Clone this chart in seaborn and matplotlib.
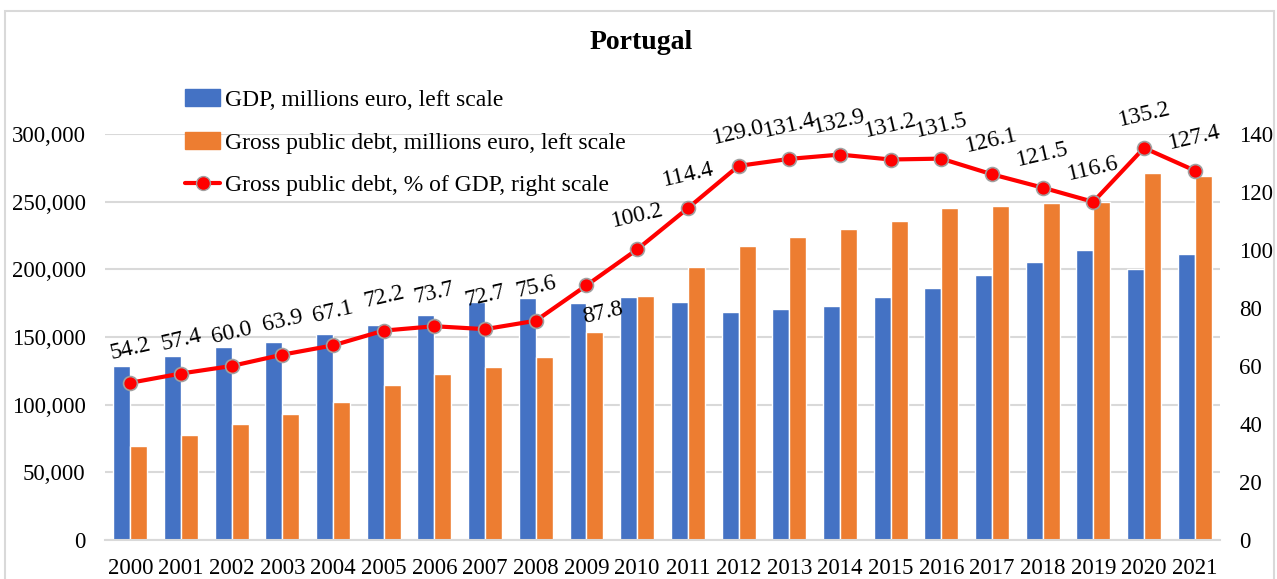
import numpy as np
import pandas as pd
import matplotlib
matplotlib.use('Agg')
import matplotlib.pyplot as plt
import seaborn as sns
from matplotlib.lines import Line2D
from matplotlib.patches import Patch, Rectangle

# data (millions euro / % of GDP)
years = [str(y) for y in range(2000, 2022)]
gdp = [128466, 135775, 142554, 146005, 152248, 158553, 166260, 175483, 179103,
       175416, 179611, 176096, 168296, 170492, 173054, 179713, 186490, 195947,
       205184, 213949, 200519, 211278]
debt = [69628, 77935, 85532, 93297, 102158, 114475, 122534, 127576, 135402,
        154015, 179970, 201454, 217102, 224026, 229989, 235783, 245234, 247089,
        249299, 249465, 271102, 269168]
debt_pct = [54.2, 57.4, 60.0, 63.9, 67.1, 72.2, 73.7, 72.7, 75.6, 87.8, 100.2,
            114.4, 129.0, 131.4, 132.9, 131.2, 131.5, 126.1, 121.5, 116.6,
            135.2, 127.4]

lab_gdp = 'GDP, millions euro, left scale'
lab_debt = 'Gross public debt, millions euro, left scale'
lab_pct = 'Gross public debt, % of GDP, right scale'

blue = '#4472C4'
orange = '#ED7D31'
red = '#FF0000'

df = pd.DataFrame({
    'year': years * 2,
    'value': gdp + debt,
    'series': [lab_gdp] * len(years) + [lab_debt] * len(years),
})

sns.set_style('white')
plt.rcParams['font.family'] = ['Liberation Serif', 'DejaVu Serif']
plt.rcParams['text.color'] = 'black'

fig = plt.figure(figsize=(12.77, 5.79), dpi=100)
ax = fig.add_axes([0.0822, 0.0674, 0.9554 - 0.0822, 0.7686 - 0.0674])

sns.barplot(data=df, x='year', y='value', hue='series', palette=[blue, orange],
            width=0.67, saturation=1, ax=ax, legend=False)
ax.set_ylim(0, 300000)
ax.set_xlim(-0.5, len(years) - 0.5)
ax.set_yticks(np.arange(0, 300001, 50000))
ax.yaxis.set_major_formatter(matplotlib.ticker.FuncFormatter(lambda v, p: f'{int(v):,}'))
ax.grid(axis='y', color='#d9d9d9', linewidth=1.5)
ax.set_axisbelow(True)
ax.set_xlabel('')
ax.set_ylabel('')
for s in ['top', 'left', 'right']:
    ax.spines[s].set_visible(False)
ax.spines['bottom'].set_color('#d9d9d9')
ax.spines['bottom'].set_linewidth(1.5)
ax.tick_params(axis='both', labelsize=16.5, length=0, colors='black')
ax.tick_params(axis='y', pad=14)
ax.tick_params(axis='x', pad=13)

ax2 = ax.twinx()
sns.lineplot(x=np.arange(len(years)), y=debt_pct, ax=ax2, color=red, linewidth=3,
             marker='o', markersize=10, markerfacecolor=red,
             markeredgecolor='#a0a0a0', markeredgewidth=1.2)
ax2.set_ylim(0, 140)
ax2.set_yticks(np.arange(0, 141, 20))
for s in ['top', 'left', 'right', 'bottom']:
    ax2.spines[s].set_visible(False)
ax2.tick_params(axis='y', labelsize=16.5, length=0, pad=14, colors='black')
ax2.grid(False)

for i, v in enumerate(debt_pct):
    if years[i] == '2009':
        ax2.annotate(f'{v:.1f}', (i, v), xytext=(12, -20), textcoords='offset points',
                     ha='center', va='center', fontsize=17, rotation=13,
                     annotation_clip=False)
    else:
        ax2.annotate(f'{v:.1f}', (i, v), xytext=(0, 24), textcoords='offset points',
                     ha='center', va='center', fontsize=17, rotation=13,
                     annotation_clip=False)

handles = [Patch(color=blue), Patch(color=orange),
           Line2D([0], [0], color=red, linewidth=3, marker='o', markersize=10,
                  markerfacecolor=red, markeredgecolor='#a0a0a0')]
fig.legend(handles, [lab_gdp, lab_debt, lab_pct], loc='upper left',
           bbox_to_anchor=(0.1375, 0.862), frameon=False, fontsize=17,
           labelspacing=0.9, handlelength=1.5, handletextpad=0.2,
           borderaxespad=0)

fig.text(0.502, 0.926, 'Portugal', ha='center', va='center', fontsize=20,
         fontweight='bold')

fig.patches.append(Rectangle((5 / 1277, -0.05), 1269 / 1277, 1.05 - 11 / 579,
                             transform=fig.transFigure, fill=False,
                             edgecolor='#d9d9d9', linewidth=1.5))

fig.savefig('out.png', dpi=100)
